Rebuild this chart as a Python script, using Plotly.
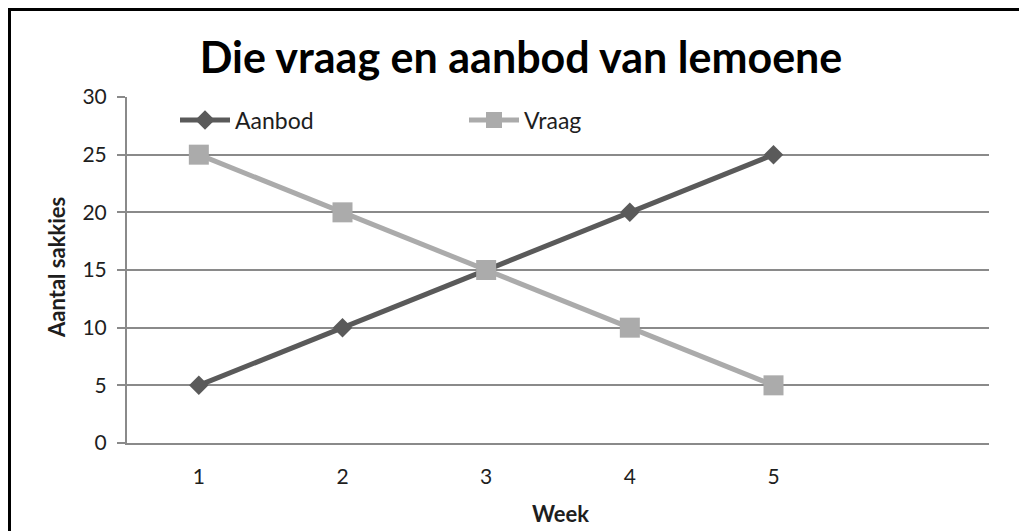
import plotly.graph_objects as go

weeks = [1, 2, 3, 4, 5]
aanbod = [5, 10, 15, 20, 25]
vraag = [25, 20, 15, 10, 5]
y_ticks = [0, 5, 10, 15, 20, 25, 30]

FONT = "Lato, Open Sans, sans-serif"
OFF = 8  # page body margin offset

fig = go.Figure()
fig.add_trace(go.Scatter(
    x=weeks, y=aanbod, name="Aanbod", mode="lines+markers",
    line=dict(color="#5a5a5a", width=5),
    marker=dict(symbol="diamond", size=15, color="#5a5a5a"),
))
fig.add_trace(go.Scatter(
    x=weeks, y=vraag, name="Vraag", mode="lines+markers",
    line=dict(color="#ababab", width=5),
    marker=dict(symbol="square", size=20, color="#ababab"),
))

W, H = 1027, 531
# reference plot area (screen px): x 127..989, y 97..443
ml = 127 - OFF
mt = 97 - OFF
pw = 989 - 127
ph = 443 - 97
mr = W - ml - pw
mb = H - mt - ph

def fx(px):  # screen px -> paper x
    return (px - OFF - ml) / pw

def fy(py):  # screen px -> paper y
    return (H - mb - (py - OFF)) / ph

fig.update_layout(
    width=W, height=H,
    margin=dict(l=ml, r=mr, t=mt, b=mb, pad=0),
    paper_bgcolor="white", plot_bgcolor="white",
    title=dict(text="<b>Die vraag en aanbod van lemoene</b>", x=fx(521), xanchor="center", xref="paper",
               y=1 - (58 - OFF) / H, yanchor="middle",
               font=dict(family=FONT, size=43, color="black")),
    font=dict(family=FONT, color="#1e1e1e"),
    showlegend=True,
    legend=dict(orientation="h", x=fx(175), xanchor="left",
                y=fy(120), yanchor="middle",
                font=dict(size=23, color="#1e1e1e"),
                itemwidth=50, entrywidth=224, entrywidthmode="pixels",
                bgcolor="rgba(0,0,0,0)"),
    xaxis=dict(range=[0.5, 6.5], tickvals=weeks, ticktext=[str(w) for w in weeks],
               showgrid=False, zeroline=False, showline=True, linecolor="#8a8a8a", linewidth=2,
               ticks="", tickfont=dict(size=21, color="#1e1e1e"), ticklabelstandoff=14),
    yaxis=dict(range=[0, 30], tickvals=y_ticks, showgrid=True, gridcolor="#8a8a8a", gridwidth=2,
               zeroline=False, showline=True, linecolor="#8a8a8a", linewidth=2,
               ticks="outside", ticklen=8, tickcolor="#8a8a8a", tickwidth=2,
               tickfont=dict(size=21, color="#1e1e1e"), ticklabelstandoff=6),
)

# axis titles
fig.add_annotation(text="<b>Aantal sakkies</b>", xref="paper", yref="paper",
                   x=fx(56), y=fy(268), xanchor="center", yanchor="middle", textangle=-90,
                   showarrow=False, font=dict(family=FONT, size=22, color="#1e1e1e"))
fig.add_annotation(text="<b>Week</b>", xref="paper", yref="paper",
                   x=fx(560), y=fy(513), xanchor="center", yanchor="middle",
                   showarrow=False, font=dict(family=FONT, size=22, color="#1e1e1e"))

# border (left and top; the image is cropped at right/bottom)
fig.add_shape(type="line", xref="paper", yref="paper",
              x0=fx(9.5), x1=fx(9.5), y0=fy(8), y1=fy(560),
              line=dict(color="black", width=3))
fig.add_shape(type="line", xref="paper", yref="paper",
              x0=fx(8), x1=fx(1060), y0=fy(9.5), y1=fy(9.5),
              line=dict(color="black", width=3))

fig.write_html("out.html")
